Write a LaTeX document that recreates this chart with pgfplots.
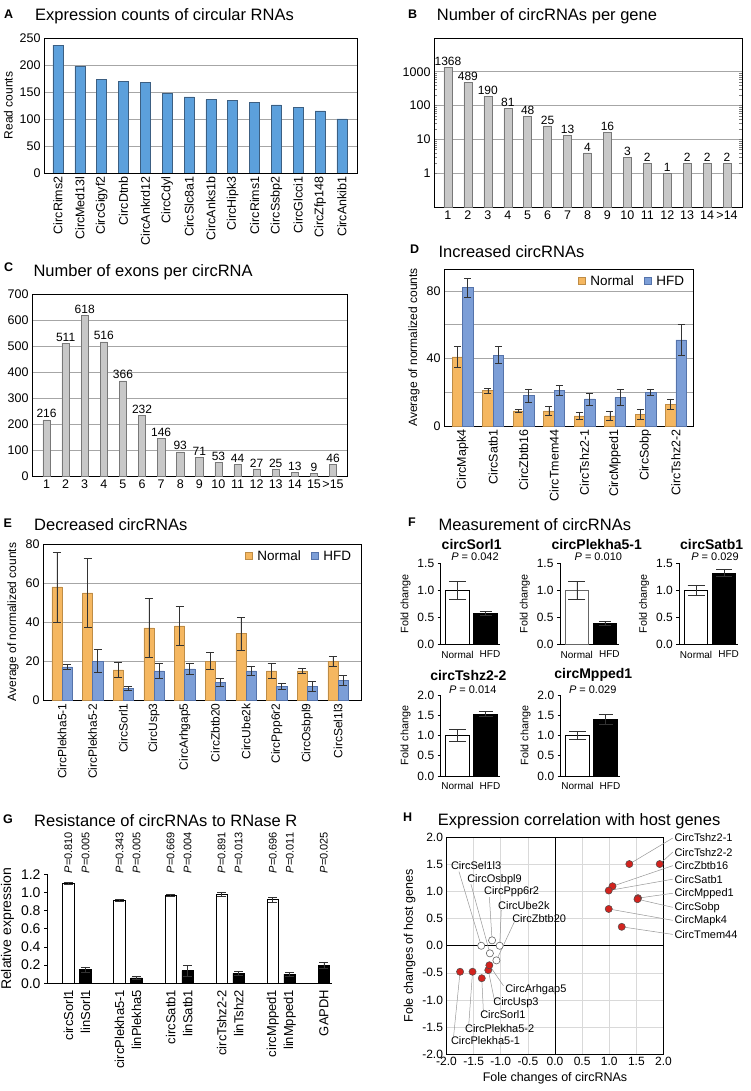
\documentclass[border=0pt]{standalone}
\usepackage{fontspec}
\setmainfont{Liberation Sans}
\usepackage{pgfplots}
\pgfplotsset{compat=1.18}
\definecolor{barblue}{RGB}{92,160,220}
\definecolor{barblueedge}{RGB}{60,95,130}
\definecolor{bargray}{RGB}{200,200,200}
\definecolor{bargrayedge}{RGB}{120,120,120}
\definecolor{normalc}{RGB}{245,183,96}
\definecolor{normaledge}{RGB}{190,140,70}
\definecolor{hfdc}{RGB}{124,158,215}
\definecolor{hfdedge}{RGB}{85,115,170}
\definecolor{dotred}{RGB}{210,35,30}
\definecolor{leader}{RGB}{150,150,150}
\newcommand{\fs}[1]{\fontsize{#1}{#1}\selectfont}
\pgfplotsset{
  every axis/.append style={scale only axis, /pgf/number format/assume math mode=true,
     tick label style={font=\fs{12.5}}, label style={font=\fs{12}}},
  boxed/.style={axis line style={black, line width=0.9pt}, major tick length=0pt,
     ymajorgrids, grid style={gray!70, line width=0.6pt}},
  onedec/.style={/pgf/number format/fixed, /pgf/number format/fixed zerofill, /pgf/number format/precision=1},
  gp/.style={axis x line=bottom, axis y line=left, axis line style={-, black, line width=0.9pt},
     ytick style={black, line width=0.9pt}, tick align=outside, major tick length=3pt, xtick style={draw=none},
     yticklabel style={onedec},
     tick label style={font=\fs{12}}, ylabel style={font=\fs{10.8}}, xticklabel style={font=\fs{10}}},
  ebar/.style={error bars/y dir=both, error bars/y explicit,
     error bars/error bar style={black!80, line width=0.6pt},
     error bars/error mark options={rotate=90, black!80, line width=0.6pt, mark size=#1}},
  sqleg/.style={legend image code/.code={\draw[##1, line width=0.5pt] (0pt,-3.5pt) rectangle (7pt,3.5pt);}},
}
\begin{document}
\begin{tikzpicture}
\useasboundingbox (0,0) rectangle (750pt,-1091pt);

% ---------------- titles ----------------
\node[anchor=base west, font=\bfseries\fs{12.5}, inner sep=0] at (4pt,-18.3pt) {A};
\node[anchor=base west, font=\fs{16.5}, inner sep=0] at (35pt,-20.7pt) {Expression counts of circular RNAs};
\node[anchor=base west, font=\bfseries\fs{12.5}, inner sep=0] at (408pt,-18.3pt) {B};
\node[anchor=base west, font=\fs{16.5}, inner sep=0] at (436.7pt,-20.7pt) {Number of circRNAs per gene};
\node[anchor=base west, font=\bfseries\fs{12.5}, inner sep=0] at (4pt,-271.7pt) {C};
\node[anchor=base west, font=\fs{16.5}, inner sep=0] at (33.3pt,-276pt) {Number of exons per circRNA};
\node[anchor=base west, font=\bfseries\fs{12.5}, inner sep=0] at (410pt,-253.3pt) {D};
\node[anchor=base west, font=\fs{16.5}, inner sep=0] at (438.3pt,-257.3pt) {Increased circRNAs};
\node[anchor=base west, font=\bfseries\fs{12.5}, inner sep=0] at (3.3pt,-527.3pt) {E};
\node[anchor=base west, font=\fs{16.5}, inner sep=0] at (34pt,-530.7pt) {Decreased circRNAs};
\node[anchor=base west, font=\bfseries\fs{12.5}, inner sep=0] at (408pt,-526pt) {F};
\node[anchor=base west, font=\fs{16.5}, inner sep=0] at (438.3pt,-530pt) {Measurement of circRNAs};
\node[anchor=base west, font=\bfseries\fs{12.5}, inner sep=0] at (3pt,-823.3pt) {G};
\node[anchor=base west, font=\fs{16.5}, inner sep=0] at (34pt,-826pt) {Resistance of circRNAs to RNase R};
\node[anchor=base west, font=\bfseries\fs{12.5}, inner sep=0] at (403pt,-821pt) {H};
\node[anchor=base west, font=\fs{16.5}, inner sep=0] at (437.7pt,-825.3pt) {Expression correlation with host genes};

% ---------------- A ----------------
\begin{axis}[boxed, at={(44pt,-173pt)}, anchor=south west, width=313pt, height=135pt,
  xmin=-0.64, xmax=13.69, ymin=0, ymax=250, ytick={0,50,100,150,200,250},
  xtick={0,...,13},
  xticklabels={CircRims2,CircMed13l,CircGigyf2,CircDtnb,CircAnkrd12,CircCdyl,CircSlc8a1,CircAnks1b,CircHipk3,CircRims1,CircSsbp2,CircGlcci1,CircZfp148,CircAnkib1},
  xticklabel style={rotate=90, anchor=east, font=\fs{12.5}}, ylabel={Read counts}]
\addplot[ybar, bar shift=0pt, bar width=0.46, fill=barblue, draw=barblueedge, line width=0.5pt]
 coordinates {(0,237) (1,198) (2,174) (3,170) (4,168) (5,148) (6,141) (7,136) (8,134) (9,131) (10,126) (11,122) (12,115) (13,100)};
\end{axis}

% ---------------- B ----------------
\begin{axis}[boxed, at={(434pt,-207pt)}, anchor=south west, width=308pt, height=169pt,
  ymode=log, log origin y=infty, ymin=0.1, ymax=10000, ytick={1,10,100,1000}, yticklabels={1,10,100,1000},
  xmin=-0.7, xmax=14.75, xtick={0,...,14}, xticklabels={1,2,3,4,5,6,7,8,9,10,11,12,13,14,>14}]
\addplot[ybar, bar shift=0pt, bar width=0.4, fill=bargray, draw=bargrayedge, line width=0.5pt,
  nodes near coords, point meta=explicit symbolic,
  every node near coord/.append style={font=\fs{12}, black, inner sep=1.5pt}]
 coordinates {(0,1368)[1368] (1,489)[489] (2,190)[190] (3,81)[81] (4,48)[48] (5,25)[25] (6,13)[13] (7,4)[4] (8,16)[16] (9,3)[3] (10,2)[2] (11,1)[1] (12,2)[2] (13,2)[2] (14,2)[2]};
\end{axis}

% ---------------- C ----------------
\begin{axis}[boxed, at={(32pt,-476pt)}, anchor=south west, width=315pt, height=182pt,
  ymin=0, ymax=700, ytick={0,100,200,300,400,500,600,700},
  xmin=-0.76, xmax=15.73, xtick={0,...,15}, xticklabels={1,2,3,4,5,6,7,8,9,10,11,12,13,14,15,>15}]
\addplot[ybar, bar shift=0pt, bar width=0.38, fill=bargray, draw=bargrayedge, line width=0.5pt,
  nodes near coords, point meta=explicit symbolic,
  every node near coord/.append style={font=\fs{12}, black, inner sep=1.5pt}]
 coordinates {(0,216)[216] (1,511)[511] (2,618)[618] (3,516)[516] (4,366)[366] (5,232)[232] (6,146)[146] (7,93)[93] (8,71)[71] (9,53)[53] (10,44)[44] (11,27)[27] (12,25)[25] (13,13)[13] (14,9)[9] (15,46)[46]};
\end{axis}

% ---------------- D ----------------
\begin{axis}[boxed, sqleg, at={(444pt,-426pt)}, anchor=south west, width=249pt, height=157pt,
  xmin=-0.61, xmax=7.56, ymin=0, ymax=93, ytick={0,20,40,60,80}, yticklabels={0,,40,,80},
  xtick={0,...,7},
  xticklabels={CircMapk4,CircSatb1,CircZbtb16,CircTmem44,CircTshz2-1,CircMpped1,CircSobp,CircTshz2-2},
  xticklabel style={rotate=90, anchor=east, font=\fs{12.5}}, ylabel={Average of normalized counts},
  legend columns=2, legend style={at={(0.985,0.985)}, anchor=north east, draw=none, fill=none,
    font=\fs{13.5}, /tikz/every odd column/.append style={column sep=3pt},
    /tikz/every even column/.append style={column sep=8pt}}]
\addplot[ybar, bar shift=0pt, bar width=0.34, fill=normalc, draw=normaledge, line width=0.5pt, ebar=3.5pt]
 coordinates {(-0.17,41) +- (0,6) (0.83,21) +- (0,1.5) (1.83,9) +- (0,1) (2.83,9) +- (0,2.5) (3.83,6) +- (0,2) (4.83,6) +- (0,2.5) (5.83,7) +- (0,3) (6.83,13) +- (0,3)};
\addlegendentry{Normal}
\addplot[ybar, bar shift=0pt, bar width=0.34, fill=hfdc, draw=hfdedge, line width=0.5pt, ebar=3.5pt]
 coordinates {(0.17,82) +- (0,5.5) (1.17,42) +- (0,5) (2.17,18) +- (0,4) (3.17,21) +- (0,3) (4.17,16) +- (0,3.5) (5.17,17) +- (0,4.5) (6.17,20) +- (0,2) (7.17,51) +- (0,9)};
\addlegendentry{HFD}
\end{axis}

% ---------------- E ----------------
\begin{axis}[boxed, sqleg, at={(43pt,-700pt)}, anchor=south west, width=318pt, height=156pt,
  xmin=-0.62, xmax=9.75, ymin=0, ymax=80, ytick={0,20,40,60,80},
  xtick={0,...,9},
  xticklabels={CircPlekha5-1,CircPlekha5-2,CircSorl1,CircUsp3,CircArhgap5,CircZbtb20,CircUbe2k,CircPpp6r2,CircOsbpl9,CircSel1l3},
  xticklabel style={rotate=90, anchor=east, font=\fs{12}}, ylabel={Average of normalized counts},
  legend columns=2, legend style={at={(0.985,0.985)}, anchor=north east, draw=none, fill=none,
    font=\fs{13.5}, /tikz/every odd column/.append style={column sep=3pt},
    /tikz/every even column/.append style={column sep=8pt}}]
\addplot[ybar, bar shift=0pt, bar width=0.33, fill=normalc, draw=normaledge, line width=0.5pt, ebar=4pt]
 coordinates {(-0.165,58) +- (0,18) (0.835,55) +- (0,17.5) (1.835,15.5) +- (0,4) (2.835,37) +- (0,15) (3.835,38) +- (0,10) (4.835,20) +- (0,4.5) (5.835,34) +- (0,8.5) (6.835,15) +- (0,4) (7.835,15) +- (0,1.5) (8.835,20) +- (0,2.5)};
\addlegendentry{Normal}
\addplot[ybar, bar shift=0pt, bar width=0.33, fill=hfdc, draw=hfdedge, line width=0.5pt, ebar=4pt]
 coordinates {(0.165,17) +- (0,1.5) (1.165,20) +- (0,6) (2.165,6) +- (0,1) (3.165,15) +- (0,4) (4.165,16) +- (0,3) (5.165,9) +- (0,2) (6.165,15) +- (0,2.5) (7.165,7) +- (0,1.5) (8.165,7) +- (0,2.5) (9.165,10) +- (0,2.5)};
\addlegendentry{HFD}
\end{axis}

% ---------------- F ----------------
\node[font=\bfseries\fs{14}] at (471.7pt,-544pt) {circSorl1};
\node[font=\fs{11}] at (475pt,-556.7pt) {\textit{P} = 0.042};
\node[font=\bfseries\fs{14}] at (596.7pt,-544pt) {circPlekha5-1};
\node[font=\fs{11}] at (598.3pt,-556.7pt) {\textit{P} = 0.010};
\node[font=\bfseries\fs{14}] at (711.7pt,-544pt) {circSatb1};
\node[font=\fs{11}] at (715pt,-556.7pt) {\textit{P} = 0.029};
\node[font=\bfseries\fs{14}] at (468.3pt,-675pt) {circTshz2-2};
\node[font=\fs{11}] at (472.7pt,-689.3pt) {\textit{P} = 0.014};
\node[font=\bfseries\fs{14}] at (593.3pt,-675pt) {circMpped1};
\node[font=\fs{11}] at (592.7pt,-689.3pt) {\textit{P} = 0.029};

\begin{axis}[gp, at={(440.7pt,-644.3pt)}, anchor=south west, width=58.8pt, height=81pt,
  xmin=-0.6, xmax=1.5, ymin=0, ymax=1.5, ytick={0,0.5,1,1.5}, xtick={0,1}, xticklabels={Normal,\hspace*{9pt}HFD}, ylabel={Fold change}]
\addplot[ybar, bar shift=0pt, bar width=0.83, fill=white, draw=black, line width=0.8pt, ebar=8.5pt] coordinates {(0,1.0) +- (0,0.17)};
\addplot[ybar, bar shift=0pt, bar width=0.83, fill=black, draw=black, line width=0.8pt, ebar=6pt] coordinates {(1,0.57) +- (0,0.04)};
\end{axis}
\begin{axis}[gp, at={(560pt,-644.3pt)}, anchor=south west, width=58.8pt, height=81pt,
  xmin=-0.6, xmax=1.5, ymin=0, ymax=1.5, ytick={0,0.5,1,1.5}, xtick={0,1}, xticklabels={Normal,\hspace*{9pt}HFD}, ylabel={Fold change}]
\addplot[ybar, bar shift=0pt, bar width=0.83, fill=white, draw=black!60, line width=0.8pt, ebar=8.5pt] coordinates {(0,1.0) +- (0,0.17)};
\addplot[ybar, bar shift=0pt, bar width=0.83, fill=black, draw=black, line width=0.8pt, ebar=6pt] coordinates {(1,0.39) +- (0,0.03)};
\end{axis}
\begin{axis}[gp, at={(679.3pt,-644.3pt)}, anchor=south west, width=58.8pt, height=81pt,
  xmin=-0.6, xmax=1.5, ymin=0, ymax=1.5, ytick={0,0.5,1,1.5}, xtick={0,1}, xticklabels={Normal,\hspace*{9pt}HFD}, ylabel={Fold change}]
\addplot[ybar, bar shift=0pt, bar width=0.83, fill=white, draw=black, line width=0.8pt, ebar=8.5pt] coordinates {(0,1.0) +- (0,0.1)};
\addplot[ybar, bar shift=0pt, bar width=0.83, fill=black, draw=black, line width=0.8pt, ebar=8pt] coordinates {(1,1.32) +- (0,0.06)};
\end{axis}
\begin{axis}[gp, at={(440.7pt,-776pt)}, anchor=south west, width=58.8pt, height=81pt,
  xmin=-0.6, xmax=1.5, ymin=0, ymax=2, ytick={0,0.5,1,1.5,2}, xtick={0,1}, xticklabels={Normal,\hspace*{9pt}HFD}, ylabel={Fold change}]
\addplot[ybar, bar shift=0pt, bar width=0.83, fill=white, draw=black, line width=0.8pt, ebar=8.5pt] coordinates {(0,1.0) +- (0,0.15)};
\addplot[ybar, bar shift=0pt, bar width=0.83, fill=black, draw=black, line width=0.8pt, ebar=7pt] coordinates {(1,1.53) +- (0,0.06)};
\end{axis}
\begin{axis}[gp, at={(560.7pt,-776pt)}, anchor=south west, width=58.8pt, height=81pt,
  xmin=-0.6, xmax=1.5, ymin=0, ymax=2, ytick={0,0.5,1,1.5,2}, xtick={0,1}, xticklabels={Normal,\hspace*{9pt}HFD}, ylabel={Fold change}]
\addplot[ybar, bar shift=0pt, bar width=0.83, fill=white, draw=black, line width=0.8pt, ebar=8.5pt] coordinates {(0,1.0) +- (0,0.1)};
\addplot[ybar, bar shift=0pt, bar width=0.83, fill=black, draw=black, line width=0.8pt, ebar=7pt] coordinates {(1,1.40) +- (0,0.13)};
\end{axis}

% ---------------- G ----------------
\begin{axis}[gp, at={(47pt,-983.3pt)}, anchor=south west, width=285pt, height=109pt, clip=false,
  xmin=-1.26, xmax=15.48, ymin=0, ymax=1.2, ytick={0,0.2,0.4,0.6,0.8,1.0,1.2},
  tick label style={font=\fs{14}}, ylabel style={font=\fs{14}}, ylabel={Relative expression},
  xtick={0,1,3,4,6,7,9,10,12,13,15},
  xticklabels={circSorl1,linSorl1,circPlekha5-1,linPlekha5,circSatb1,linSatb1,circTshz2-2,linTshz2,circMpped1,linMpped1,GAPDH},
  xticklabel style={rotate=90, anchor=east, font=\fs{13}}]
\addplot[ybar, bar shift=0pt, bar width=0.68, fill=white, draw=black, line width=0.6pt, ebar=4.5pt]
 coordinates {(0,1.10) +- (0,0.015) (3,0.91) +- (0,0.01) (6,0.97) +- (0,0.008) (9,0.98) +- (0,0.025) (12,0.92) +- (0,0.025)};
\addplot[ybar, bar shift=0pt, bar width=0.68, fill=black, draw=black, line width=0.6pt, ebar=4.5pt]
 coordinates {(1,0.15) +- (0,0.03) (4,0.06) +- (0,0.012) (7,0.14) +- (0,0.06) (10,0.11) +- (0,0.02) (13,0.10) +- (0,0.02) (15,0.20) +- (0,0.03)};
\begin{scope}[every node/.style={rotate=90, anchor=west, font=\fs{11}, inner sep=0pt}]
\node at (axis cs:0,1.21) {\textit{P}=0.810};
\node at (axis cs:1,1.21) {\textit{P}=0.005};
\node at (axis cs:3,1.21) {\textit{P}=0.343};
\node at (axis cs:4,1.21) {\textit{P}=0.005};
\node at (axis cs:6,1.21) {\textit{P}=0.669};
\node at (axis cs:7,1.21) {\textit{P}=0.004};
\node at (axis cs:9,1.21) {\textit{P}=0.891};
\node at (axis cs:10,1.21) {\textit{P}=0.013};
\node at (axis cs:12,1.21) {\textit{P}=0.696};
\node at (axis cs:13,1.21) {\textit{P}=0.011};
\node at (axis cs:15,1.21) {\textit{P}=0.025};
\end{scope}
\end{axis}

% ---------------- H ----------------
\begin{axis}[at={(446.5pt,-1054pt)}, anchor=south west, width=217pt, height=216.5pt, clip=false,
  axis line style={black, line width=0.9pt}, major tick length=0pt,
  xmin=-2, xmax=2, ymin=-2, ymax=2,
  xtick={-2,-1.5,-1,-0.5,0,0.5,1,1.5,2}, ytick={-2,-1.5,-1,-0.5,0,0.5,1,1.5,2},
  grid=major, grid style={gray!30, line width=0.6pt},
  xticklabel style={onedec}, yticklabel style={onedec},
  tick label style={font=\fs{12}}, label style={font=\fs{12.5}},
  xlabel={Fole changes of circRNAs}, ylabel={Fole changes of host genes}]
\draw[black, line width=0.9pt] (axis cs:0,-2) -- (axis cs:0,2);
\draw[black, line width=0.9pt] (axis cs:-2,0) -- (axis cs:2,0);
\begin{scope}[leader, line width=0.5pt]
\draw (axis cs:2.17,1.99) -- (axis cs:1.37,1.51);
\draw (axis cs:2.17,1.73) -- (axis cs:1.93,1.51);
\draw (axis cs:2.17,1.48) -- (axis cs:1.06,1.10);
\draw (axis cs:2.17,1.23) -- (axis cs:0.99,1.02);
\draw (axis cs:2.17,0.97) -- (axis cs:1.53,0.88);
\draw (axis cs:2.17,0.71) -- (axis cs:1.52,0.86);
\draw (axis cs:2.17,0.47) -- (axis cs:0.99,0.68);
\draw (axis cs:2.17,0.21) -- (axis cs:1.23,0.35);
\draw (axis cs:-1.77,1.37) -- (axis cs:-1.36,0.0);
\draw (axis cs:-1.55,1.14) -- (axis cs:-1.20,-0.14);
\draw (axis cs:-1.21,0.90) -- (axis cs:-1.16,0.10);
\draw (axis cs:-0.99,0.66) -- (axis cs:-1.02,0.0);
\draw (axis cs:-0.75,0.44) -- (axis cs:-1.08,-0.27);
\draw (axis cs:-0.95,-0.74) -- (axis cs:-1.21,-0.36);
\draw (axis cs:-1.12,-0.99) -- (axis cs:-1.23,-0.45);
\draw (axis cs:-1.32,-1.22) -- (axis cs:-1.35,-0.60);
\draw (axis cs:-1.59,-1.46) -- (axis cs:-1.52,-0.48);
\draw (axis cs:-1.87,-1.68) -- (axis cs:-1.75,-0.48);
\end{scope}
\addplot[only marks, mark=*, mark size=3.6pt, mark options={fill=white, draw=black!60, line width=0.6pt}]
 coordinates {(-1.36,0.0) (-1.16,0.10) (-1.02,0.0) (-1.20,-0.14) (-1.08,-0.27)};
\addplot[only marks, mark=*, mark size=3.6pt, mark options={fill=dotred, draw=black!70, line width=0.5pt}]
 coordinates {(1.37,1.51) (1.93,1.51) (1.06,1.10) (0.99,1.02) (1.53,0.88) (1.52,0.86) (0.99,0.68) (1.23,0.35)
 (-1.75,-0.48) (-1.52,-0.48) (-1.35,-0.60) (-1.23,-0.45) (-1.21,-0.36)};
\begin{scope}[every node/.style={anchor=west, font=\fs{11}, inner sep=0.5pt}]
\node at (axis cs:2.19,1.99) {CircTshz2-1};
\node at (axis cs:2.19,1.73) {CircTshz2-2};
\node at (axis cs:2.19,1.48) {CircZbtb16};
\node at (axis cs:2.19,1.23) {CircSatb1};
\node at (axis cs:2.19,0.97) {CircMpped1};
\node at (axis cs:2.19,0.71) {CircSobp};
\node at (axis cs:2.19,0.47) {CircMapk4};
\node at (axis cs:2.19,0.21) {CircTmem44};
\node at (axis cs:-1.93,1.48) {CircSel1l3};
\node at (axis cs:-1.63,1.22) {CircOsbpl9};
\node at (axis cs:-1.32,1.00) {CircPpp6r2};
\node at (axis cs:-1.06,0.75) {CircUbe2k};
\node at (axis cs:-0.80,0.51) {CircZbtb20};
\node at (axis cs:-0.93,-0.82) {CircArhgap5};
\node at (axis cs:-1.15,-1.06) {CircUsp3};
\node at (axis cs:-1.39,-1.28) {CircSorl1};
\node at (axis cs:-1.67,-1.53) {CircPlekha5-2};
\node at (axis cs:-1.93,-1.76) {CircPlekha5-1};
\end{scope}
\end{axis}
\end{tikzpicture}
\end{document}
